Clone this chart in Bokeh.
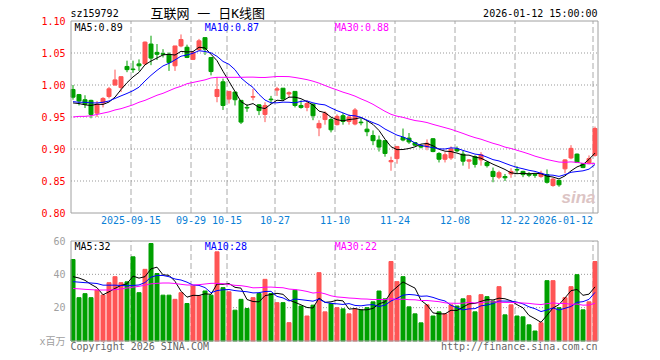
import numpy as np
import pandas as pd
from bokeh.plotting import figure
from bokeh.layouts import column
from bokeh.models import Range1d, FixedTicker, PrintfTickFormatter, Label, ColumnDataSource
from bokeh.embed import file_html
from bokeh.resources import INLINE

# ---------------- data ----------------
opens = [0.993, 0.985, 0.977, 0.976, 0.956, 0.972, 0.982, 1.000, 0.996, 1.029,
         1.025, 1.033, 1.033, 1.064, 1.051, 1.049, 1.048, 1.030, 1.061, 1.059,
         1.040, 1.055, 1.074, 1.043, 0.982, 1.005, 0.978, 0.989, 0.976, 0.965,
         0.981, 0.969, 0.954, 0.978, 0.992, 0.995, 0.986, 0.990, 0.968, 0.965,
         0.970, 0.933, 0.946, 0.946, 0.938, 0.952, 0.943, 0.939, 0.942, 0.931,
         0.921, 0.914, 0.913, 0.880, 0.885, 0.918, 0.917, 0.910, 0.905, 0.903,
         0.916, 0.893, 0.884, 0.886, 0.900, 0.892, 0.881, 0.888, 0.883, 0.879,
         0.865, 0.856, 0.857, 0.861, 0.868, 0.865, 0.861, 0.860, 0.857, 0.860,
         0.843, 0.851, 0.869, 0.886, 0.892, 0.877, 0.878, 0.890]
highs = [1.000, 0.986, 0.984, 0.977, 0.975, 0.981, 0.997, 1.024, 1.013, 1.038,
         1.038, 1.040, 1.068, 1.077, 1.064, 1.056, 1.051, 1.061, 1.079, 1.063,
         1.053, 1.072, 1.074, 1.043, 1.012, 1.010, 0.990, 0.989, 0.976, 0.970,
         0.994, 0.970, 0.973, 0.983, 0.997, 0.995, 0.990, 0.990, 0.976, 0.976,
         0.971, 0.945, 0.959, 0.949, 0.954, 0.956, 0.954, 0.964, 0.949, 0.944,
         0.929, 0.921, 0.913, 0.888, 0.904, 0.932, 0.925, 0.911, 0.907, 0.915,
         0.917, 0.895, 0.895, 0.904, 0.904, 0.897, 0.884, 0.890, 0.895, 0.881,
         0.871, 0.866, 0.861, 0.870, 0.873, 0.866, 0.864, 0.862, 0.866, 0.868,
         0.855, 0.852, 0.884, 0.906, 0.893, 0.878, 0.890, 0.935]
lows = [0.977, 0.968, 0.964, 0.948, 0.950, 0.965, 0.979, 0.999, 0.989, 1.020,
        1.019, 1.022, 1.031, 1.031, 1.039, 1.043, 1.022, 1.022, 1.059, 1.042,
        1.039, 1.054, 1.047, 1.015, 0.973, 0.961, 0.971, 0.968, 0.939, 0.958,
        0.976, 0.953, 0.942, 0.971, 0.983, 0.976, 0.981, 0.965, 0.963, 0.959,
        0.945, 0.920, 0.938, 0.926, 0.937, 0.938, 0.938, 0.937, 0.937, 0.920,
        0.906, 0.896, 0.888, 0.866, 0.877, 0.912, 0.908, 0.905, 0.901, 0.898,
        0.895, 0.879, 0.879, 0.883, 0.895, 0.874, 0.869, 0.871, 0.874, 0.871,
        0.848, 0.853, 0.850, 0.855, 0.861, 0.856, 0.856, 0.855, 0.855, 0.846,
        0.841, 0.841, 0.862, 0.884, 0.878, 0.870, 0.877, 0.888]
closes = [0.981, 0.975, 0.970, 0.954, 0.970, 0.979, 0.994, 1.008, 1.013, 1.024,
          1.024, 1.030, 1.067, 1.042, 1.048, 1.048, 1.035, 1.061, 1.071, 1.043,
          1.051, 1.069, 1.056, 1.021, 0.993, 0.968, 0.990, 0.977, 0.942, 0.964,
          0.982, 0.960, 0.968, 0.977, 0.994, 0.978, 0.988, 0.968, 0.965, 0.971,
          0.952, 0.940, 0.956, 0.930, 0.951, 0.943, 0.950, 0.961, 0.941, 0.927,
          0.913, 0.903, 0.893, 0.882, 0.904, 0.914, 0.911, 0.906, 0.903, 0.909,
          0.896, 0.884, 0.891, 0.900, 0.897, 0.881, 0.883, 0.876, 0.891, 0.874,
          0.857, 0.863, 0.855, 0.865, 0.867, 0.860, 0.859, 0.859, 0.862, 0.848,
          0.853, 0.844, 0.883, 0.901, 0.879, 0.871, 0.885, 0.932]
volumes = [48.9, 26.0, 28.4, 26.0, 30.6, 27.6, 35.0, 38.6, 35.0, 35.5,
           50.5, 29.0, 43.0, 58.5, 40.5, 27.5, 27.5, 25.0, 29.0, 22.5,
           33.0, 27.0, 30.0, 27.5, 53.5, 32.0, 29.5, 18.5, 25.0, 19.5,
           26.0, 28.5, 37.0, 28.5, 23.0, 23.0, 11.0, 30.5, 21.0, 15.0,
           21.5, 41.0, 17.5, 22.5, 20.0, 19.3, 16.3, 19.3, 18.7, 20.0,
           23.5, 30.0, 25.3, 47.7, 35.6, 38.6, 20.5, 16.3, 10.9, 21.7,
           15.0, 17.5, 16.3, 21.7, 21.0, 25.3, 27.2, 17.5, 27.8, 26.6,
           24.0, 32.6, 15.7, 21.7, 15.0, 14.5, 9.7, 6.0, 10.9, 36.2,
           36.2, 20.0, 26.0, 32.6, 39.8, 18.7, 23.5, 47.7]

# moving-average values before the window holds enough days
price_ma5_head = [0.972, 0.971, 0.969, 0.968]
price_ma10_head = [0.974, 0.973, 0.973, 0.972, 0.972, 0.973, 0.975, 0.979, 0.983]
price_ma30_head = [0.950, 0.951, 0.951, 0.952, 0.954, 0.956, 0.958, 0.961, 0.963, 0.966,
                   0.969, 0.973, 0.976, 0.980, 0.984, 0.987, 0.991, 0.995, 0.998, 1.002,
                   1.004, 1.006, 1.008, 1.011, 1.012, 1.012, 1.012, 1.012, 1.012]
vol_ma5_head = [38.6, 37.8, 36.4, 34.0]
vol_ma10_head = [35.6, 35.3, 35.0, 34.8, 34.5, 33.5, 33.5, 33.5, 33.3]
vol_ma30_head = [31.5, 31.3, 31.0, 30.8, 30.6, 30.6, 30.6, 30.8, 31.2, 31.8,
                 32.3, 32.8, 33.5, 34.3, 34.6, 34.8, 34.8, 34.5, 34.0, 33.6,
                 33.6, 33.8, 34.2, 34.6, 34.6, 34.4, 33.9, 33.4, 33.2]

date_index = [10, 20, 26, 34, 44, 54, 64, 74, 87]
date_labels = ["2025-09-15", "09-29", "10-15", "10-27", "11-10", "11-24",
               "12-08", "12-22", "2026-01-12"]
price_ticks = [0.80, 0.85, 0.90, 0.95, 1.00, 1.05, 1.10]
price_grid = [0.85, 0.90, 0.95, 1.00, 1.05]
vol_ticks = [0, 20, 40, 60]
vol_grid = [20, 40]

symbol = "sz159792"
title_text = "互联网 一 日K线图"
stamp = "2026-01-12 15:00:00"
price_ma_labels = ["MA5:0.89", "MA10:0.87", "MA30:0.88"]
vol_ma_labels = ["MA5:32", "MA10:28", "MA30:22"]
unit_text = "x百万"
copyright_text = "Copyright 2026 SINA.COM"
url_text = "http://finance.sina.com.cn"

# ---------------- styling ----------------
RED = "#ff5555"
GREEN = "#00a000"
MA_COLORS = ["#000000", "#0000ff", "#ff00ff"]
MONO = "DejaVu Sans Mono"
CJK = "DejaVu Sans Mono, Noto Sans CJK SC"
BORDER = "#a0a0a0"
GRID = "#aaaaaa"
W = 660
PX = 6.0                    # pixels per trading day
X0 = 72.5                   # pixel of first candle centre
FRAME_L, FRAME_R = 66, 600  # frame edges in pixels
P_TOP_PX, P_BOT_PX = 20.5, 212.5     # 1.10 and 0.80
V_TOP_PX, V_BOT_PX = 240.5, 340.5    # 60 and 0
PRICE_PX = (P_BOT_PX - P_TOP_PX) / (price_ticks[-1] - price_ticks[0])
VOL_PX = (V_BOT_PX - V_TOP_PX) / vol_ticks[-1]


def px_idx(x):
    return (x - X0) / PX


def py_price(y):
    return price_ticks[-1] - (y - P_TOP_PX) / PRICE_PX


def py_vol(y):
    return vol_ticks[-1] - (y - V_TOP_PX) / VOL_PX


def moving(vals, n, head):
    s = pd.Series(vals, dtype=float).rolling(n).mean().to_numpy()
    s[:n - 1] = head
    return s


N = len(closes)
idx = np.arange(N)
o = np.array(opens); c = np.array(closes)
colors = [RED if cc >= oo else GREEN for oo, cc in zip(o, c)]
src = ColumnDataSource(dict(
    x=idx, top=np.maximum(o, c), bottom=np.minimum(o, c),
    high=highs, low=lows, vol=volumes, color=colors))

x_range = Range1d(px_idx(FRAME_L), px_idx(FRAME_R))
panel_l, panel_r = px_idx(70.5), px_idx(597.5)
grid_x = [i - 1 / 3 for i in date_index]
label_x = grid_x[:-1] + [grid_x[-1] - len(date_labels[-1]) * 6.02 / 2 / PX]


def add_label(p, x, y, text, color="#000000", align="left", font=MONO,
              size="10px", style="normal"):
    p.add_layout(Label(x=x, y=y, text=text, text_color=color, text_align=align,
                       text_baseline="middle", text_font=font,
                       text_font_size=size, text_font_style=style))


def style_axis(ax, color, standoff):
    ax.axis_line_color = None
    ax.major_tick_line_color = None
    ax.minor_tick_line_color = None
    ax.major_tick_out = 0
    ax.major_label_text_font = CJK
    ax.major_label_text_font_size = "10px"
    ax.major_label_text_color = color
    ax.major_label_standoff = standoff


# ---------------- price panel ----------------
P1_FRAME_BOT = 214
p1 = figure(width=W, height=232, x_range=x_range,
            y_range=Range1d(py_price(P1_FRAME_BOT), py_price(0)),
            output_backend="svg", toolbar_location=None,
            min_border_left=FRAME_L, min_border_right=W - FRAME_R,
            min_border_top=0, min_border_bottom=232 - P1_FRAME_BOT)
p1.outline_line_color = None
p1.grid.visible = False
p1.yaxis.ticker = FixedTicker(ticks=price_ticks)
p1.yaxis.formatter = PrintfTickFormatter(format="%.2f")
style_axis(p1.yaxis, "#ff0000", 1)
p1.xaxis.ticker = FixedTicker(ticks=label_x)
p1.xaxis.major_label_overrides = {t: lab for t, lab in zip(label_x, date_labels)}
style_axis(p1.xaxis, "#0a7fd6", 1)

k = len(grid_x); m = len(price_grid)
p1.segment(x0=grid_x, y0=[price_ticks[0]] * k, x1=grid_x, y1=[price_ticks[-1]] * k,
           line_color=GRID, line_width=1, line_dash="6 3")
p1.segment(x0=[panel_l] * m, y0=price_grid, x1=[panel_r] * m, y1=price_grid,
           line_color="#999999", line_width=1, line_dash="1 2")

p1.segment(x0="x", y0="low", x1="x", y1="high", line_color="color",
           line_width=1, source=src)
p1.vbar(x="x", width=4 / 6, top="top", bottom="bottom", fill_color="color",
        line_color="color", line_width=1, source=src)
pma = [moving(closes, 5, price_ma5_head), moving(closes, 10, price_ma10_head),
       moving(closes, 30, price_ma30_head)]
for series, col in zip(pma, MA_COLORS):
    p1.line(idx, series, line_color=col, line_width=1)
p1.quad(left=[panel_l], right=[panel_r], bottom=[price_ticks[0]], top=[price_ticks[-1]],
        fill_color=None, line_color=BORDER, line_width=1)

add_label(p1, px_idx(70), py_price(13), symbol)
add_label(p1, px_idx(150), py_price(12.5), title_text, font=CJK, size="13px")
add_label(p1, px_idx(597), py_price(13), stamp, align="right")
for lab, xx, col in zip(price_ma_labels, [74, 204.3, 334.3], MA_COLORS):
    add_label(p1, px_idx(xx), py_price(26.5), lab, color=col)
add_label(p1, px_idx(595), py_price(197), "sina", color="#dcc4c4",
          font="Liberation Sans", size="17px", style="bold italic", align="right")

# ---------------- volume panel ----------------
p2 = figure(width=W, height=128, x_range=x_range,
            y_range=Range1d(py_vol(360), py_vol(232)),
            output_backend="svg", toolbar_location=None, x_axis_location=None,
            min_border_left=FRAME_L, min_border_right=W - FRAME_R,
            min_border_top=0, min_border_bottom=0)
p2.outline_line_color = None
p2.grid.visible = False
p2.yaxis.ticker = FixedTicker(ticks=vol_ticks)
p2.yaxis.major_label_overrides = {vol_ticks[0]: unit_text}
style_axis(p2.yaxis, "#a0a0a0", 1)

mv = len(vol_grid)
p2.segment(x0=grid_x, y0=[0] * k, x1=grid_x, y1=[vol_ticks[-1]] * k,
           line_color=GRID, line_width=1, line_dash="6 3")
p2.segment(x0=[panel_l] * mv, y0=vol_grid, x1=[panel_r] * mv, y1=vol_grid,
           line_color="#999999", line_width=1, line_dash="1 2")
p2.vbar(x="x", width=4 / 6, top="vol", bottom=0, fill_color="color",
        line_color="color", line_width=1, source=src)
vma = [moving(volumes, 5, vol_ma5_head), moving(volumes, 10, vol_ma10_head),
       moving(volumes, 30, vol_ma30_head)]
for series, col in zip(vma, MA_COLORS):
    p2.line(idx, series, line_color=col, line_width=1)
p2.quad(left=[panel_l], right=[panel_r], bottom=[0], top=[vol_ticks[-1]],
        fill_color=None, line_color=BORDER, line_width=1)

for lab, xx, col in zip(vol_ma_labels, [74, 204.3, 334.3], MA_COLORS):
    add_label(p2, px_idx(xx), py_vol(246), lab, color=col)
add_label(p2, px_idx(70), py_vol(346), copyright_text, color="#666666")
add_label(p2, px_idx(597), py_vol(346), url_text, color="#666666", align="right")

layout = column(p1, p2)
open("out.html", "w").write(file_html(layout, INLINE))
